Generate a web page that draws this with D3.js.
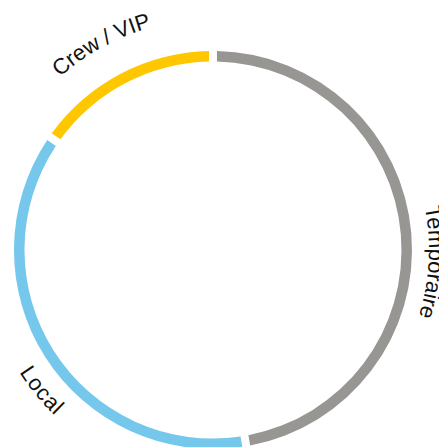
<!DOCTYPE html>
<html>
<head>
<meta charset="utf-8">
<script src="https://cdn.jsdelivr.net/npm/d3@7"></script>
<style>
  html, body { margin: 0; padding: 0; background: #fff; overflow: hidden; }
  svg { display: block; }
</style>
</head>
<body>
<svg id="chart" width="439" height="447"></svg>
<script>
// ---- data ----
const categories = ["Temporaire", "Local", "Crew / VIP"];
const values = [47.6, 37.4, 15.0];
const colors = ["#979692", "#76c7ec", "#ffc700"];

// ---- label placement (angle in degrees clockwise from top, baseline radius, reading direction) ----
const labelAngles = [93.2, 230.8, 331.5];
const labelRadii = [216, 213, 231];
const labelFlip = [false, true, false];

const W = 439, H = 447;
const cx = 213, cy = 250;
const outerR = 199, innerR = 188.5;

const svg = d3.select("#chart");
const g = svg.append("g").attr("transform", `translate(${cx},${cy})`);

const data = categories.map((c, i) => ({ name: c, value: values[i], color: colors[i], i }));

const pie = d3.pie().value(d => d.value).sort(null).padAngle(0.04);
const arc = d3.arc().innerRadius(innerR).outerRadius(outerR).padRadius(outerR);

g.selectAll("path.slice")
  .data(pie(data))
  .join("path")
  .attr("class", "slice")
  .attr("d", arc)
  .attr("fill", d => d.data.color);

// curved labels
const toRad = d3.scaleLinear().domain([0, 360]).range([0, 2 * Math.PI]);
const span = 1.0; // radians of path either side
data.forEach((d, i) => {
  const a = toRad(labelAngles[i]);
  const r = labelRadii[i];
  const a0 = a - span, a1 = a + span;
  const pt = t => [r * Math.sin(t), -r * Math.cos(t)];
  let p;
  if (!labelFlip[i]) {
    const s = pt(a0), e = pt(a1);
    p = `M${s[0]},${s[1]} A${r},${r} 0 0 1 ${e[0]},${e[1]}`;
  } else {
    const s = pt(a1), e = pt(a0);
    p = `M${s[0]},${s[1]} A${r},${r} 0 0 0 ${e[0]},${e[1]}`;
  }
  g.append("path")
    .attr("id", "lp" + i)
    .attr("d", p)
    .attr("fill", "none");
  g.append("text")
    .attr("font-family", "'Liberation Sans', Arial, Helvetica, sans-serif")
    .attr("font-size", 22)
    .attr("fill", "#111")
    .append("textPath")
    .attr("href", "#lp" + i)
    .attr("startOffset", "50%")
    .attr("text-anchor", "middle")
    .attr("dominant-baseline", labelFlip[i] ? "hanging" : "auto")
    .text(d.name);
});
</script>
</body>
</html>
